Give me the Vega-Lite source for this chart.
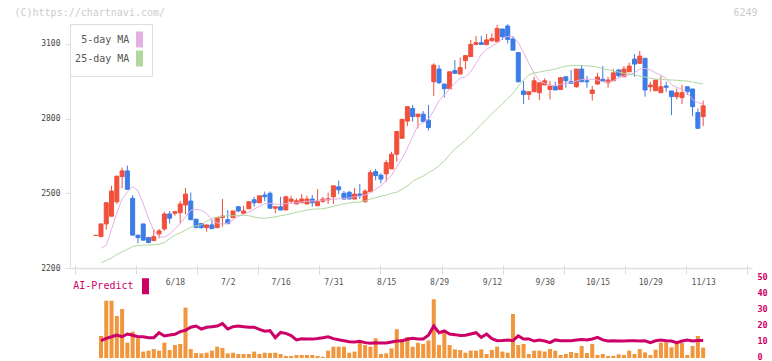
{
  "$schema": "https://vega.github.io/schema/vega-lite/v6.json",
  "width": 682,
  "height": 334,
  "autosize": {"type": "none"},
  "padding": {"left": 70, "top": 24, "right": 20, "bottom": 3},
  "background": "white",
  "config": {"view": {"stroke": null}, "axis": {"grid": false}, "font": "DejaVu Sans Mono"},
  "data": {"values": [
    {"date":"2025-05-28","i":0,"open":2331,"high":2331,"low":2331,"close":2331},
    {"date":"2025-05-29","i":1,"open":2326,"high":2377,"low":2326,"close":2377,"ma5":2279,"ma25":2221,"vol":13.75,"ai":10.8},
    {"date":"2025-05-30","i":2,"open":2377,"high":2462,"low":2354,"close":2462,"ma5":2292,"ma25":2230,"vol":35.8,"ai":12.3},
    {"date":"2025-06-02","i":3,"open":2408,"high":2530,"low":2408,"close":2509,"ma5":2355,"ma25":2240,"vol":35.8,"ai":13.3},
    {"date":"2025-06-03","i":4,"open":2466,"high":2569,"low":2457,"close":2569,"ma5":2421,"ma25":2254,"vol":26.3,"ai":14.4},
    {"date":"2025-06-04","i":5,"open":2567,"high":2603,"low":2520,"close":2590,"ma5":2477,"ma25":2265,"vol":30.6,"ai":13.3},
    {"date":"2025-06-05","i":6,"open":2590,"high":2611,"low":2516,"close":2516,"ma5":2506,"ma25":2275,"vol":9.6,"ai":15},
    {"date":"2025-06-06","i":7,"open":2480,"high":2493,"low":2332,"close":2332,"ma5":2527,"ma25":2286,"vol":16.5,"ai":14.2},
    {"date":"2025-06-09","i":8,"open":2332,"high":2332,"low":2299,"close":2322,"ma5":2510,"ma25":2290,"vol":12.3,"ai":13.3},
    {"date":"2025-06-10","i":9,"open":2377,"high":2377,"low":2310,"close":2312,"ma5":2458,"ma25":2292,"vol":4,"ai":13.3},
    {"date":"2025-06-11","i":10,"open":2322,"high":2325,"low":2300,"close":2302,"ma5":2400,"ma25":2292,"vol":4.6,"ai":12.7},
    {"date":"2025-06-12","i":11,"open":2310,"high":2357,"low":2310,"close":2326,"ma5":2350,"ma25":2294,"vol":5.6,"ai":12.7},
    {"date":"2025-06-13","i":12,"open":2337,"high":2357,"low":2319,"close":2349,"ma5":2325,"ma25":2296,"vol":4.6,"ai":15.8},
    {"date":"2025-06-16","i":13,"open":2357,"high":2426,"low":2349,"close":2417,"ma5":2324,"ma25":2302,"vol":9.6,"ai":13.8},
    {"date":"2025-06-17","i":14,"open":2417,"high":2429,"low":2379,"close":2400,"ma5":2337,"ma25":2318,"vol":5,"ai":14.4},
    {"date":"2025-06-18","i":15,"open":2420,"high":2430,"low":2410,"close":2426,"ma5":2358,"ma25":2332,"vol":8.1,"ai":14.8},
    {"date":"2025-06-19","i":16,"open":2422,"high":2469,"low":2379,"close":2457,"ma5":2378,"ma25":2341,"vol":8.8,"ai":16.5},
    {"date":"2025-06-20","i":17,"open":2453,"high":2521,"low":2416,"close":2497,"ma5":2405,"ma25":2352,"vol":31.5,"ai":17.3},
    {"date":"2025-06-23","i":18,"open":2469,"high":2503,"low":2394,"close":2394,"ma5":2432,"ma25":2364,"vol":5.6,"ai":19.2},
    {"date":"2025-06-24","i":19,"open":2396,"high":2396,"low":2362,"close":2362,"ma5":2436,"ma25":2369,"vol":3.1,"ai":20},
    {"date":"2025-06-25","i":20,"open":2379,"high":2379,"low":2358,"close":2362,"ma5":2432,"ma25":2373,"vol":2.9,"ai":18.1},
    {"date":"2025-06-26","i":21,"open":2362,"high":2373,"low":2346,"close":2373,"ma5":2419,"ma25":2388,"vol":3.3,"ai":19.2},
    {"date":"2025-06-27","i":22,"open":2373,"high":2394,"low":2358,"close":2358,"ma5":2392,"ma25":2397,"vol":4.6,"ai":19.6},
    {"date":"2025-06-30","i":23,"open":2362,"high":2403,"low":2362,"close":2403,"ma5":2381,"ma25":2404,"vol":7.1,"ai":20},
    {"date":"2025-07-01","i":24,"open":2403,"high":2477,"low":2366,"close":2409,"ma5":2376,"ma25":2408,"vol":6.3,"ai":21.5},
    {"date":"2025-07-02","i":25,"open":2394,"high":2433,"low":2378,"close":2378,"ma5":2380,"ma25":2410,"vol":2.9,"ai":18.1},
    {"date":"2025-07-03","i":26,"open":2402,"high":2429,"low":2402,"close":2429,"ma5":2394,"ma25":2410,"vol":3.3,"ai":19.6},
    {"date":"2025-07-04","i":27,"open":2446,"high":2450,"low":2424,"close":2429,"ma5":2407,"ma25":2411,"vol":2.5,"ai":20},
    {"date":"2025-07-07","i":28,"open":2420,"high":2449,"low":2420,"close":2429,"ma5":2415,"ma25":2412,"vol":2.5,"ai":19.6},
    {"date":"2025-07-08","i":29,"open":2438,"high":2469,"low":2438,"close":2466,"ma5":2425,"ma25":2410,"vol":2.5,"ai":19.2},
    {"date":"2025-07-09","i":30,"open":2474,"high":2486,"low":2446,"close":2462,"ma5":2436,"ma25":2405,"vol":4,"ai":19.2},
    {"date":"2025-07-10","i":31,"open":2462,"high":2490,"low":2462,"close":2490,"ma5":2448,"ma25":2401,"vol":2.5,"ai":17.9},
    {"date":"2025-07-11","i":32,"open":2493,"high":2507,"low":2468,"close":2486,"ma5":2458,"ma25":2400,"vol":3.3,"ai":16.7},
    {"date":"2025-07-14","i":33,"open":2500,"high":2507,"low":2440,"close":2440,"ma5":2460,"ma25":2403,"vol":3.1,"ai":17.1},
    {"date":"2025-07-15","i":34,"open":2440,"high":2446,"low":2420,"close":2446,"ma5":2456,"ma25":2405,"vol":3.3,"ai":12.7},
    {"date":"2025-07-16","i":35,"open":2446,"high":2486,"low":2433,"close":2433,"ma5":2456,"ma25":2410,"vol":2.5,"ai":16},
    {"date":"2025-07-17","i":36,"open":2433,"high":2490,"low":2433,"close":2486,"ma5":2458,"ma25":2414,"vol":1.3,"ai":15.4},
    {"date":"2025-07-18","i":37,"open":2468,"high":2490,"low":2459,"close":2477,"ma5":2460,"ma25":2418,"vol":1.3,"ai":14},
    {"date":"2025-07-22","i":38,"open":2457,"high":2480,"low":2457,"close":2470,"ma5":2462,"ma25":2424,"vol":1.9,"ai":11.3},
    {"date":"2025-07-23","i":39,"open":2462,"high":2497,"low":2462,"close":2477,"ma5":2465,"ma25":2428,"vol":1.9,"ai":12},
    {"date":"2025-07-24","i":40,"open":2457,"high":2490,"low":2457,"close":2477,"ma5":2468,"ma25":2433,"vol":1.9,"ai":11.8},
    {"date":"2025-07-25","i":41,"open":2477,"high":2493,"low":2446,"close":2462,"ma5":2469,"ma25":2436,"vol":1.9,"ai":11.8},
    {"date":"2025-07-28","i":42,"open":2450,"high":2517,"low":2450,"close":2466,"ma5":2472,"ma25":2437,"vol":1.3,"ai":12.2},
    {"date":"2025-07-29","i":43,"open":2468,"high":2486,"low":2462,"close":2477,"ma5":2473,"ma25":2438,"vol":0.8,"ai":12.7},
    {"date":"2025-07-30","i":44,"open":2474,"high":2503,"low":2457,"close":2478,"ma5":2474,"ma25":2442,"vol":4.6,"ai":13.3},
    {"date":"2025-07-31","i":45,"open":2486,"high":2530,"low":2457,"close":2530,"ma5":2476,"ma25":2448,"vol":7.1,"ai":12.1},
    {"date":"2025-08-01","i":46,"open":2526,"high":2551,"low":2497,"close":2514,"ma5":2478,"ma25":2453,"vol":7.1,"ai":11.4},
    {"date":"2025-08-04","i":47,"open":2500,"high":2510,"low":2474,"close":2477,"ma5":2480,"ma25":2458,"vol":7.1,"ai":10.8},
    {"date":"2025-08-05","i":48,"open":2504,"high":2510,"low":2477,"close":2477,"ma5":2481,"ma25":2461,"vol":3.3,"ai":10.2},
    {"date":"2025-08-06","i":49,"open":2477,"high":2521,"low":2477,"close":2497,"ma5":2486,"ma25":2464,"vol":4,"ai":10},
    {"date":"2025-08-07","i":50,"open":2497,"high":2538,"low":2477,"close":2490,"ma5":2489,"ma25":2465,"vol":10.6,"ai":10.4},
    {"date":"2025-08-08","i":51,"open":2466,"high":2517,"low":2462,"close":2509,"ma5":2493,"ma25":2469,"vol":8.1,"ai":9.6},
    {"date":"2025-08-12","i":52,"open":2506,"high":2594,"low":2506,"close":2583,"ma5":2503,"ma25":2477,"vol":7.1,"ai":9.2},
    {"date":"2025-08-13","i":53,"open":2587,"high":2598,"low":2552,"close":2571,"ma5":2516,"ma25":2482,"vol":12.3,"ai":9.6},
    {"date":"2025-08-14","i":54,"open":2573,"high":2580,"low":2540,"close":2557,"ma5":2529,"ma25":2488,"vol":2.5,"ai":9.4},
    {"date":"2025-08-15","i":55,"open":2578,"high":2634,"low":2547,"close":2623,"ma5":2551,"ma25":2493,"vol":2.9,"ai":9.4},
    {"date":"2025-08-18","i":56,"open":2598,"high":2667,"low":2598,"close":2657,"ma5":2573,"ma25":2500,"vol":6,"ai":10},
    {"date":"2025-08-19","i":57,"open":2657,"high":2748,"low":2627,"close":2748,"ma5":2607,"ma25":2505,"vol":18,"ai":10.6},
    {"date":"2025-08-20","i":58,"open":2721,"high":2797,"low":2721,"close":2797,"ma5":2640,"ma25":2516,"vol":11.9,"ai":10.8},
    {"date":"2025-08-21","i":59,"open":2790,"high":2848,"low":2770,"close":2848,"ma5":2681,"ma25":2529,"vol":13.1,"ai":11.7},
    {"date":"2025-08-22","i":60,"open":2841,"high":2855,"low":2788,"close":2808,"ma5":2728,"ma25":2547,"vol":7,"ai":12.3},
    {"date":"2025-08-25","i":61,"open":2808,"high":2818,"low":2761,"close":2818,"ma5":2772,"ma25":2560,"vol":9.5,"ai":11.9},
    {"date":"2025-08-26","i":62,"open":2818,"high":2830,"low":2788,"close":2788,"ma5":2784,"ma25":2569,"vol":8.8,"ai":11.9},
    {"date":"2025-08-27","i":63,"open":2794,"high":2855,"low":2752,"close":2764,"ma5":2798,"ma25":2583,"vol":11,"ai":14.2},
    {"date":"2025-08-28","i":64,"open":2948,"high":3022,"low":2891,"close":3015,"ma5":2832,"ma25":2594,"vol":36.7,"ai":20},
    {"date":"2025-08-29","i":65,"open":2999,"high":3015,"low":2939,"close":2944,"ma5":2872,"ma25":2611,"vol":8.1,"ai":15.8},
    {"date":"2025-09-01","i":66,"open":2939,"high":2939,"low":2885,"close":2920,"ma5":2895,"ma25":2630,"vol":16.5,"ai":16.9},
    {"date":"2025-09-02","i":67,"open":2920,"high":2988,"low":2920,"close":2988,"ma5":2919,"ma25":2654,"vol":8.1,"ai":15},
    {"date":"2025-09-03","i":68,"open":2993,"high":3035,"low":2982,"close":2982,"ma5":2942,"ma25":2678,"vol":5.4,"ai":14.6},
    {"date":"2025-09-04","i":69,"open":2979,"high":3045,"low":2979,"close":3005,"ma5":2962,"ma25":2695,"vol":5,"ai":14},
    {"date":"2025-09-05","i":70,"open":3033,"high":3053,"low":2998,"close":3053,"ma5":2968,"ma25":2713,"vol":3.3,"ai":14.2},
    {"date":"2025-09-08","i":71,"open":3049,"high":3116,"low":3049,"close":3098,"ma5":2987,"ma25":2733,"vol":4.6,"ai":15},
    {"date":"2025-09-09","i":72,"open":3098,"high":3132,"low":3098,"close":3105,"ma5":3022,"ma25":2754,"vol":4.6,"ai":15.8},
    {"date":"2025-09-10","i":73,"open":3105,"high":3132,"low":3098,"close":3098,"ma5":3059,"ma25":2777,"vol":5.4,"ai":12.9},
    {"date":"2025-09-11","i":74,"open":3097,"high":3140,"low":3097,"close":3116,"ma5":3078,"ma25":2798,"vol":2.5,"ai":15},
    {"date":"2025-09-12","i":75,"open":3113,"high":3142,"low":3108,"close":3122,"ma5":3092,"ma25":2820,"vol":5,"ai":12.1},
    {"date":"2025-09-16","i":76,"open":3109,"high":3176,"low":3109,"close":3162,"ma5":3104,"ma25":2840,"vol":7.1,"ai":10.8},
    {"date":"2025-09-17","i":77,"open":3160,"high":3160,"low":3116,"close":3129,"ma5":3121,"ma25":2860,"vol":4,"ai":11},
    {"date":"2025-09-18","i":78,"open":3172,"high":3179,"low":3102,"close":3118,"ma5":3130,"ma25":2880,"vol":3.3,"ai":11.3},
    {"date":"2025-09-19","i":79,"open":3120,"high":3132,"low":3075,"close":3075,"ma5":3129,"ma25":2901,"vol":27.5,"ai":10.8},
    {"date":"2025-09-22","i":80,"open":3065,"high":3065,"low":2945,"close":2948,"ma5":3105,"ma25":2930,"vol":8.1,"ai":13.8},
    {"date":"2025-09-24","i":81,"open":2911,"high":2951,"low":2859,"close":2897,"ma5":3065,"ma25":2956,"vol":8.8,"ai":11.9},
    {"date":"2025-09-25","i":82,"open":2897,"high":2908,"low":2875,"close":2908,"ma5":3022,"ma25":2975,"vol":2.5,"ai":11.9},
    {"date":"2025-09-26","i":83,"open":2908,"high":2968,"low":2908,"close":2952,"ma5":2982,"ma25":2983,"vol":4.6,"ai":10.6},
    {"date":"2025-09-29","i":84,"open":2904,"high":2944,"low":2875,"close":2944,"ma5":2952,"ma25":2987,"vol":4.6,"ai":11.3},
    {"date":"2025-09-30","i":85,"open":2935,"high":2962,"low":2935,"close":2952,"ma5":2942,"ma25":2991,"vol":4,"ai":10.6},
    {"date":"2025-10-01","i":86,"open":2917,"high":2952,"low":2877,"close":2931,"ma5":2934,"ma25":2995,"vol":5.6,"ai":9.6},
    {"date":"2025-10-02","i":87,"open":2929,"high":2948,"low":2915,"close":2915,"ma5":2932,"ma25":2999,"vol":4.6,"ai":11.3},
    {"date":"2025-10-03","i":88,"open":2917,"high":2968,"low":2917,"close":2964,"ma5":2938,"ma25":3005,"vol":1.9,"ai":10.8},
    {"date":"2025-10-06","i":89,"open":2968,"high":2968,"low":2924,"close":2952,"ma5":2940,"ma25":3011,"vol":2.5,"ai":10.8},
    {"date":"2025-10-07","i":90,"open":2948,"high":2995,"low":2939,"close":2942,"ma5":2944,"ma25":3013,"vol":3.8,"ai":10.8},
    {"date":"2025-10-08","i":91,"open":2928,"high":2999,"low":2924,"close":2999,"ma5":2951,"ma25":3013,"vol":3.1,"ai":11.3},
    {"date":"2025-10-09","i":92,"open":2999,"high":3015,"low":2948,"close":2948,"ma5":2957,"ma25":3013,"vol":7.5,"ai":11.5},
    {"date":"2025-10-10","i":93,"open":2952,"high":2971,"low":2924,"close":2948,"ma5":2959,"ma25":3012,"vol":3.1,"ai":11.3},
    {"date":"2025-10-14","i":94,"open":2901,"high":2931,"low":2872,"close":2915,"ma5":2958,"ma25":3010,"vol":8.8,"ai":11.9},
    {"date":"2025-10-15","i":95,"open":2939,"high":2984,"low":2935,"close":2967,"ma5":2955,"ma25":3007,"vol":1.9,"ai":12.9},
    {"date":"2025-10-16","i":96,"open":2958,"high":3011,"low":2951,"close":2951,"ma5":2947,"ma25":3000,"vol":2.5,"ai":11.3},
    {"date":"2025-10-17","i":97,"open":2944,"high":2968,"low":2924,"close":2955,"ma5":2946,"ma25":2996,"vol":1.3,"ai":10.6},
    {"date":"2025-10-20","i":98,"open":2952,"high":2999,"low":2952,"close":2984,"ma5":2952,"ma25":2991,"vol":1.3,"ai":10.8},
    {"date":"2025-10-21","i":99,"open":2995,"high":2999,"low":2966,"close":2972,"ma5":2963,"ma25":2987,"vol":2.3,"ai":10.6},
    {"date":"2025-10-22","i":100,"open":2968,"high":3011,"low":2968,"close":2999,"ma5":2971,"ma25":2982,"vol":1.9,"ai":10.6},
    {"date":"2025-10-23","i":101,"open":2988,"high":3025,"low":2988,"close":3011,"ma5":2976,"ma25":2979,"vol":4.6,"ai":10.8},
    {"date":"2025-10-24","i":102,"open":3039,"high":3059,"low":2968,"close":3019,"ma5":2984,"ma25":2975,"vol":2.5,"ai":10.8},
    {"date":"2025-10-27","i":103,"open":3022,"high":3071,"low":3022,"close":3051,"ma5":2999,"ma25":2971,"vol":5.6,"ai":10.6},
    {"date":"2025-10-28","i":104,"open":3042,"high":3042,"low":2888,"close":2915,"ma5":3002,"ma25":2967,"vol":3.5,"ai":10.8},
    {"date":"2025-10-29","i":105,"open":2928,"high":2948,"low":2908,"close":2935,"ma5":2995,"ma25":2962,"vol":1.9,"ai":9.6},
    {"date":"2025-10-30","i":106,"open":2912,"high":2955,"low":2912,"close":2955,"ma5":2984,"ma25":2959,"vol":5.2,"ai":10.8},
    {"date":"2025-10-31","i":107,"open":2904,"high":2971,"low":2904,"close":2928,"ma5":2975,"ma25":2958,"vol":9.6,"ai":11.3},
    {"date":"2025-11-04","i":108,"open":2931,"high":2948,"low":2908,"close":2926,"ma5":2962,"ma25":2956,"vol":9.8,"ai":10.8},
    {"date":"2025-11-05","i":109,"open":2911,"high":2911,"low":2814,"close":2888,"ma5":2935,"ma25":2955,"vol":6.7,"ai":10.6},
    {"date":"2025-11-06","i":110,"open":2888,"high":2921,"low":2877,"close":2904,"ma5":2926,"ma25":2954,"vol":9.6,"ai":9.6},
    {"date":"2025-11-07","i":111,"open":2884,"high":2935,"low":2859,"close":2904,"ma5":2918,"ma25":2952,"vol":9.4,"ai":10.6},
    {"date":"2025-11-10","i":112,"open":2928,"high":2928,"low":2895,"close":2908,"ma5":2904,"ma25":2951,"vol":1.9,"ai":11.3},
    {"date":"2025-11-11","i":113,"open":2919,"high":2919,"low":2810,"close":2848,"ma5":2877,"ma25":2947,"vol":7.5,"ai":10.6},
    {"date":"2025-11-12","i":114,"open":2824,"high":2841,"low":2761,"close":2761,"ma5":2864,"ma25":2943,"vol":13.8,"ai":11},
    {"date":"2025-11-13","i":115,"open":2808,"high":2872,"low":2770,"close":2851,"ma5":2859,"ma25":2939,"vol":6.5,"ai":11}
  ]},
  "layer": [
    {
      "layer": [
        {
          "mark": {"type": "rule", "strokeWidth": 1},
          "encoding": {
            "x": {"field": "i", "type": "quantitative",
              "scale": {"domain": [-3.917, 123.3], "nice": false, "zero": false},
              "axis": {"orient": "bottom", "offset": -93, "values": [-3.917, 7.648, 19.213, 30.779, 42.344, 53.909, 65.474, 77.039, 88.605, 100.17, 111.735, 123.3],
                "labels": false, "domain": false, "ticks": true, "tickSize": 9, "tickColor": "#dddddd", "tickWidth": 1, "title": null, "grid": false}},
            "y": {"field": "low", "type": "quantitative",
              "scale": {"domain": [2200, 3180], "range": [244, 0], "nice": false, "zero": false},
              "axis": {"orient": "left", "values": [2200, 2500, 2800, 3100], "format": "d", "tickSize": 5, "tickColor": "#dddddd", "domainColor": "#dddddd",
                "labelPadding": 5, "labelFont": "DejaVu Sans Mono", "labelFontSize": 8, "labelColor": "#444444", "labelFlush": false,
                "title": "(C)https://chartnavi.com/", "titleAngle": 0, "titleAlign": "left", "titleBaseline": "middle", "titleX": -56, "titleY": -12,
                "titleColor": "#cccccc", "titleFont": "DejaVu Sans Mono", "titleFontSize": 10, "titleFontWeight": "normal", "grid": false}},
            "y2": {"field": "high"},
            "stroke": {"condition": {"test": "datum.close >= datum.open", "value": "#f0503c"}, "value": "#3c7ce8"}
          }
        },
        {
          "mark": {"type": "bar", "size": 4, "strokeWidth": 1, "orient": "vertical"},
          "encoding": {
            "x": {"field": "i", "type": "quantitative"},
            "y": {"field": "open", "type": "quantitative", "title": "(C)https://chartnavi.com/"},
            "y2": {"field": "close"},
            "fill": {"condition": {"test": "datum.close >= datum.open", "value": "#f0503c"}, "value": "#3c7ce8"},
            "stroke": {"condition": {"test": "datum.close >= datum.open", "value": "#f0503c"}, "value": "#3c7ce8"}
          }
        },
        {
          "transform": [{"fold": ["ma5", "ma25"], "as": ["series", "value"]}],
          "mark": {"type": "line", "strokeWidth": 1},
          "encoding": {
            "x": {"field": "i", "type": "quantitative"},
            "y": {"field": "value", "type": "quantitative", "title": "(C)https://chartnavi.com/"},
            "stroke": {"field": "series", "type": "nominal",
              "scale": {"domain": ["ma5", "ma25"], "range": ["#e4b0e4", "#b0d8a0"]},
              "legend": {"orient": "none", "legendX": 0, "legendY": 0, "title": null,
                "padding": 7, "strokeColor": "#dddddd", "fillColor": "#ffffff",
                "symbolType": "M-0.375,-1V1M-0.25,-1V1M-0.125,-1V1M0,-1V1M0.125,-1V1M0.25,-1V1M0.375,-1V1",
                "symbolSize": 256, "symbolStrokeWidth": 1,
                "symbolOffset": 54, "labelAlign": "right", "labelOffset": -18.7,
                "labelFont": "DejaVu Sans Mono", "labelFontSize": 10, "labelColor": "#555555",
                "rowPadding": -4,
                "labelExpr": "datum.value === 'ma5' ? '5-day MA' : '25-day MA'"}}
          }
        }
      ]
    },
    {
      "layer": [
        {
          "mark": {"type": "bar", "size": 4, "color": "#f0963c"},
          "encoding": {
            "x": {"field": "i", "type": "quantitative",
              "scale": {"domain": [-3.917, 123.3], "nice": false, "zero": false},
              "axis": {"orient": "bottom", "offset": -90, "values": [15, 25, 35, 45, 55, 65, 75, 85, 95, 105, 115],
                "ticks": false, "tickSize": 0, "domain": true, "domainColor": "#dddddd", "domainWidth": 1.5,
                "labelExpr": "['6/18','7/2','7/16','7/31','8/15','8/29','9/12','9/30','10/15','10/29','11/13'][round((datum.value - 15) / 10)]",
                "labelPadding": 10, "labelFont": "DejaVu Sans Mono", "labelFontSize": 8, "labelColor": "#555555",
                "labelFlush": false, "labelOverlap": false, "title": null, "grid": false}},
            "y": {"field": "vol", "type": "quantitative",
              "scale": {"domain": [0, 50], "range": [334, 254], "nice": false},
              "axis": {"orient": "right", "values": [0, 10, 20, 30, 40, 50], "domain": false, "ticks": false, "labelPadding": 5, "labelOffset": -1.5,
                "labelFont": "DejaVu Sans Mono", "labelFontSize": 8.5, "labelFontWeight": "bold", "labelColor": "#cc0066", "labelFlush": false,
                "title": "6249", "titleAngle": 0, "titleAlign": "right", "titleBaseline": "middle", "titleX": 5, "titleY": -12,
                "titleColor": "#cccccc", "titleFont": "DejaVu Sans Mono", "titleFontSize": 10, "titleFontWeight": "normal", "grid": false}}
          }
        },
        {
          "mark": {"type": "line", "strokeWidth": 3},
          "encoding": {
            "x": {"field": "i", "type": "quantitative"},
            "y": {"field": "ai", "type": "quantitative", "title": "6249"},
            "stroke": {"datum": "AI-Predict", "type": "nominal",
              "scale": {"range": ["#cc0066"]},
              "legend": {"orient": "none", "legendX": 0, "legendY": 252.7, "title": null, "padding": 0,
                "symbolType": "M-0.25,-1V1M0,-1V1M0.25,-1V1", "symbolSize": 256, "symbolStrokeWidth": 3,
                "symbolOffset": 66, "labelAlign": "right", "labelOffset": -21.5,
                "labelFont": "DejaVu Sans Mono", "labelFontSize": 10, "labelColor": "#cc0066"}}
          }
        }
      ]
    }
  ],
  "resolve": {"scale": {"x": "independent", "y": "independent", "stroke": "independent"}}
}
